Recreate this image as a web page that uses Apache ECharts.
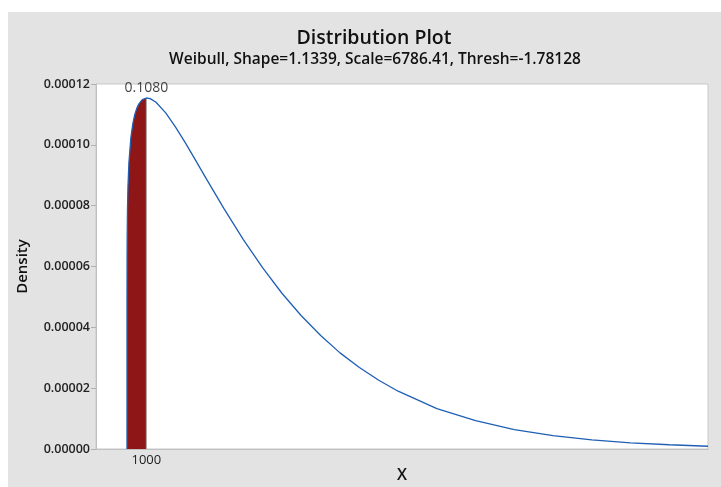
<!DOCTYPE html>
<html>
<head>
<meta charset="utf-8">
<script src="https://cdn.jsdelivr.net/npm/echarts@6/dist/echarts.min.js"></script>
<style>
  html, body { margin: 0; padding: 0; background: #ffffff; }
  #chart { width: 721px; height: 487px; }
</style>
</head>
<body>
<div id="chart"></div>
<script>
// Weibull density curve (x values and density at each x)
const curveX = [0, 1, 5, 10, 25, 50, 100, 200, 300, 400, 500, 600, 700, 800, 900, 1000, 1200, 1500,
  2000, 2500, 3000, 3500, 4000, 5000, 6000, 7000, 8000, 9000, 10000, 11000, 12000, 13000, 14000,
  16000, 18000, 20000, 22000, 24000, 26000, 28000, 30000];
const curveY = [0, 0.0000513, 0.0000636, 0.0000698, 0.0000788, 0.0000862, 0.0000942, 0.0001023,
  0.0001069, 0.0001099, 0.0001119, 0.0001133, 0.0001142, 0.0001149, 0.0001152, 0.0001154,
  0.0001152, 0.0001140, 0.0001105, 0.0001059, 0.0001008, 0.0000954, 0.0000899, 0.0000791,
  0.0000689, 0.0000596, 0.0000512, 0.0000438, 0.0000373, 0.0000316, 0.0000268, 0.0000226,
  0.0000190, 0.0000133, 0.0000093, 0.0000064, 0.0000044, 0.0000030, 0.0000020, 0.0000014,
  0.0000009];

// Shaded region: lower tail up to the cut-off value
const cutoff = 1000;
const tailProbability = '0.1080';
const yTicks = [0, 0.00002, 0.00004, 0.00006, 0.00008, 0.00010, 0.00012];

const curveData = curveX.map((x, i) => [x, curveY[i]]);
const shadedData = curveData.filter(p => p[0] <= cutoff);
const cutoffDensity = curveY[curveX.indexOf(cutoff)];

const FONT = 'Open Sans';
const chart = echarts.init(document.getElementById('chart'));
chart.setOption({
  animation: false,
  backgroundColor: '#ffffff',
  graphic: [{
    type: 'rect', z: -10, silent: true,
    shape: { x: 8, y: 12, width: 713, height: 475 },
    style: { fill: '#e3e3e3' }
  }],
  title: [{
    text: 'Distribution Plot',
    left: 369, top: 23, textAlign: 'center',
    textStyle: { fontFamily: FONT, fontSize: 19.5, fontWeight: 600, color: '#111' }
  }, {
    text: 'Weibull, Shape=1.1339, Scale=6786.41, Thresh=-1.78128',
    left: 370, top: 47, textAlign: 'center',
    textStyle: { fontFamily: FONT, fontSize: 15.5, fontWeight: 600, color: '#111' }
  }],
  grid: {
    left: 96, right: 13, top: 84, bottom: 38,
    outerBoundsMode: 'none', containLabel: false,
    show: true, backgroundColor: '#ffffff', borderColor: '#c8c8c8', borderWidth: 1
  },
  xAxis: {
    type: 'value', min: -1600, max: 30000,
    name: 'X', nameLocation: 'middle', nameGap: 26, nameMoveOverlap: false,
    nameTextStyle: { fontFamily: FONT, fontSize: 16, fontWeight: 600, color: '#111', verticalAlign: 'middle' },
    axisLine: { show: true, onZero: false, lineStyle: { color: '#c0c0c0' } },
    splitLine: { show: false },
    axisTick: { show: false },
    axisLabel: {
      customValues: [cutoff], margin: 5,
      fontFamily: FONT, fontSize: 13, color: '#222',
      formatter: v => String(v)
    }
  },
  yAxis: {
    type: 'value', min: 0, max: 0.00012, interval: 0.00002,
    name: 'Density', nameLocation: 'middle', nameRotate: 90, nameGap: 66,
    nameTextStyle: { fontFamily: FONT, fontSize: 15, fontWeight: 600, color: '#111' },
    axisLine: { show: true, onZero: false, lineStyle: { color: '#c0c0c0' } },
    axisTick: { show: true, length: 5, lineStyle: { color: '#b0b0b0' } },
    splitLine: { show: false },
    axisLabel: {
      margin: 6, fontFamily: FONT, fontSize: 12.5, fontWeight: 600, color: '#222',
      customValues: yTicks,
      formatter: v => v.toFixed(5)
    }
  },
  series: [{
    type: 'line', data: shadedData, symbol: 'none', z: 2,
    lineStyle: { width: 0 },
    areaStyle: { color: '#8e1616', opacity: 1 }
  }, {
    type: 'line', data: [[cutoff, 0], [cutoff, cutoffDensity]], symbol: 'none', z: 3,
    lineStyle: { color: '#a8a8a8', width: 1 }
  }, {
    type: 'line', data: curveData, symbol: 'none', z: 4,
    lineStyle: { color: '#1f5fb4', width: 1.3 }
  }, {
    type: 'scatter', symbolSize: 0, z: 5,
    data: [[cutoff, cutoffDensity]],
    label: {
      show: true, position: 'top', distance: 3,
      formatter: () => tailProbability,
      fontFamily: FONT, fontSize: 14, color: '#111'
    }
  }]
});
</script>
</body>
</html>
